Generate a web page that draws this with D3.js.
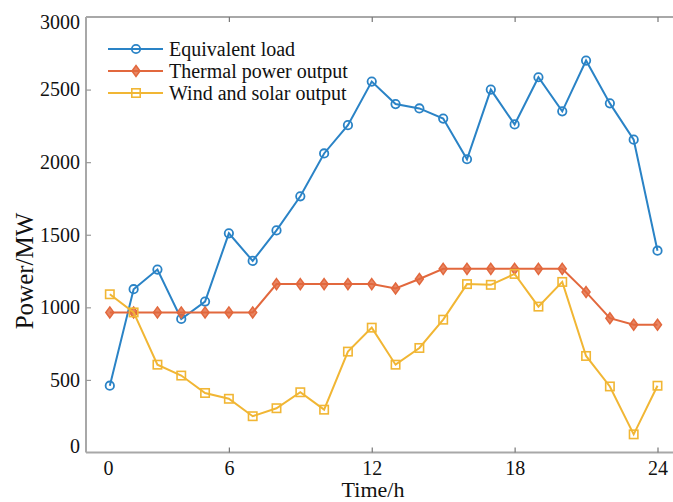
<!DOCTYPE html>
<html><head><meta charset="utf-8">
<script src="https://cdn.jsdelivr.net/npm/d3@7"></script>
<style>body{margin:0;background:#fff}svg{display:block}text{font-family:"Liberation Serif","Times New Roman",serif;fill:#111}</style>
</head><body><svg id="c" width="673" height="502"></svg>
<script>
const hours = d3.range(1, 25);
const equivalentLoad = [460,1125,1260,920,1040,1510,1320,1530,1765,2060,2255,2555,2400,2370,2300,2020,2500,2260,2585,2350,2700,2405,2155,1390];
const thermalOutput = [965,965,965,965,965,965,965,1160,1160,1160,1160,1160,1130,1195,1265,1265,1265,1265,1265,1265,1105,925,880,880];
const windSolarOutput = [1090,965,605,530,410,370,250,305,415,295,695,860,605,720,915,1160,1155,1230,1005,1175,665,455,125,460];
const xTicks = [0,6,12,18,24];
const yTicks = [0,500,1000,1500,2000,2500,3000];
const seriesNames = ["Equivalent load","Thermal power output","Wind and solar output"];
const colors = ["#2a83c6","#e2683d","#f1b634"];
const markers = ["circle","diamond","square"];

const svg = d3.select("#c");
const L = 86, T = 17, B = 452.5, R = 700;
const x = d3.scaleLinear().domain([0,24]).range([L, 657.5]);
const y = d3.scaleLinear().domain([0,3000]).range([B, T]);

// box
const axisColor = "#a8a8a8";
svg.append("line").attr("x1",L).attr("x2",R).attr("y1",T).attr("y2",T).attr("stroke",axisColor).attr("stroke-width",2);
svg.append("line").attr("x1",L).attr("x2",R).attr("y1",B).attr("y2",B).attr("stroke",axisColor).attr("stroke-width",2);
svg.append("line").attr("x1",L).attr("x2",L).attr("y1",T).attr("y2",B).attr("stroke",axisColor).attr("stroke-width",2);

// x axis
const xAxis = svg.append("g").attr("transform",`translate(0,${B})`)
  .call(d3.axisBottom(x).tickValues(xTicks).tickSize(-5).tickPadding(8).tickFormat(d3.format("d")));
xAxis.select(".domain").remove();
xAxis.selectAll(".tick line").attr("stroke","#777").attr("stroke-width",1.2);
xAxis.selectAll(".tick text").attr("font-size",20).attr("font-family","Liberation Serif").attr("fill","#111");
xAxis.selectAll(".tick").filter(d=>d===0).select("line").remove();
xAxis.selectAll(".tick").filter(d=>d===0).select("text").attr("dx",22);
// top ticks
const xTop = svg.append("g").attr("transform",`translate(0,${T})`)
  .call(d3.axisTop(x).tickValues(xTicks.filter(d=>d>0)).tickSize(-5).tickFormat(""));
xTop.select(".domain").remove();
xTop.selectAll(".tick line").attr("stroke","#777").attr("stroke-width",1.2);

// y axis
const yAxis = svg.append("g").attr("transform",`translate(${L},0)`)
  .call(d3.axisLeft(y).tickValues(yTicks).tickSize(-5).tickPadding(6).tickFormat(d3.format("d")));
yAxis.select(".domain").remove();
yAxis.selectAll(".tick line").attr("stroke","#999").attr("stroke-width",1.2);
yAxis.selectAll(".tick").filter(d=>d===0||d===3000).select("line").remove();
yAxis.selectAll(".tick text").attr("font-size",20).attr("font-family","Liberation Serif").attr("fill","#111").attr("dy","0.32em");
yAxis.selectAll(".tick").filter(d=>d===3000).select("text").attr("dy","0.58em");
yAxis.selectAll(".tick").filter(d=>d===0).select("text").attr("dy","-0.02em");

// titles
svg.append("text").attr("x",373).attr("y",497).attr("text-anchor","middle").attr("font-size",22).text("Time/h");
svg.append("text").attr("transform","translate(33,271) rotate(-90)").attr("text-anchor","middle").attr("font-size",25).text("Power/MW");

// series
const all = [equivalentLoad, thermalOutput, windSolarOutput];
function drawMarker(g, type, color, cx, cy){
  if(type==="circle") g.append("circle").attr("cx",cx).attr("cy",cy).attr("r",4.2).attr("fill","none").attr("stroke",color).attr("stroke-width",1.8);
  else if(type==="diamond") g.append("path").attr("d",`M${cx},${cy-5.5}L${cx+4},${cy}L${cx},${cy+5.5}L${cx-4},${cy}Z`).attr("fill",color).attr("fill-opacity",0.8).attr("stroke",color).attr("stroke-width",1.5);
  else g.append("rect").attr("x",cx-4.2).attr("y",cy-4.2).attr("width",8.4).attr("height",8.4).attr("fill","none").attr("stroke",color).attr("stroke-width",1.6);
}
const line = d3.line().x((d,i)=>x(hours[i])).y(d=>y(d));
all.forEach((vals,k)=>{
  const g = svg.append("g");
  g.append("path").attr("d",line(vals)).attr("fill","none").attr("stroke",colors[k]).attr("stroke-width",2);
  vals.forEach((v,i)=>drawMarker(g, markers[k], colors[k], x(hours[i]), y(v)));
});

// legend
const legendY = [49,71,93];
seriesNames.forEach((n,k)=>{
  const g = svg.append("g");
  g.append("line").attr("x1",108).attr("x2",163).attr("y1",legendY[k]).attr("y2",legendY[k]).attr("stroke",colors[k]).attr("stroke-width",2);
  drawMarker(g, markers[k], colors[k], 136, legendY[k]);
  g.append("text").attr("x",169).attr("y",legendY[k]).attr("dy","0.33em").attr("font-size",20).text(n);
});
</script></body></html>
